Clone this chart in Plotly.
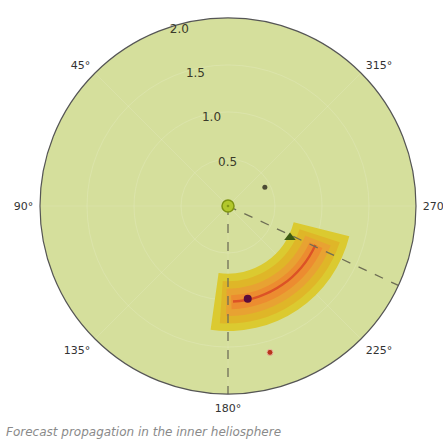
import plotly.graph_objects as go

# Forecast fan (nested annular sectors, outermost first)
band_inner = [0.72, 0.80, 0.88, 0.95, 1.005]
band_outer = [1.33, 1.25, 1.17, 1.10, 1.03]
band_start = [172, 176, 179, 182, 183]
band_end = [256, 252, 249, 246, 246]
band_colors = ["#dbca30", "#dfb628", "#e8a232", "#ec8c30", "#dc5226"]

# Reference directions from the Sun (deg)
guide_angles = [180, 245]
guide_r_max = 2.0

# Bodies: name, r (AU), theta (deg)
body_names = ["Sun", "Mercury", "Venus", "Earth", "Mars"]
body_r = [0.0, 0.44, 0.74, 1.01, 1.62]
body_theta = [0, 297, 243, 192, 196]

# Axis ticks
r_ticks = [0.5, 1.0, 1.5, 2.0]
r_labels = ["0.5", "1.0", "1.5", "2.0"]
theta_ticks = [45, 90, 135, 180, 225, 270, 315]
theta_labels = ["45°", "90°", "135°", "180°", "225°", "270°", "315°"]

caption = "Forecast propagation in the inner heliosphere"

fig = go.Figure()

for lo, hi, a0, a1, col in zip(band_inner, band_outer, band_start, band_end, band_colors):
    fig.add_trace(go.Barpolar(
        r=[hi - lo], base=[lo], theta=[(a0 + a1) / 2], width=[a1 - a0],
        marker=dict(color=col, line=dict(width=0)),
        hoverinfo="skip", showlegend=False,
    ))

for ang in guide_angles:
    fig.add_trace(go.Scatterpolar(
        r=[0, guide_r_max], theta=[ang, ang], mode="lines",
        line=dict(color="#6e6e55", width=1.3, dash="dash"),
        hoverinfo="skip", showlegend=False,
    ))

styles = {
    "Sun": dict(symbol="circle-dot", size=12, color="#b2c82c", line=dict(color="#7e9412", width=1.5)),
    "Mercury": dict(symbol="circle", size=5, color="#4c4c34", line=dict(width=0)),
    "Venus": dict(symbol="triangle-up", size=10, color="#3c5a12", line=dict(width=0)),
    "Earth": dict(symbol="circle", size=8, color="#5a0c3c", line=dict(width=0)),
    "Mars": dict(symbol="circle", size=6, color="#b8341c", line=dict(color="#e8b8a0", width=1)),
}
for name, r, th in zip(body_names, body_r, body_theta):
    fig.add_trace(go.Scatterpolar(
        r=[r], theta=[th], mode="markers", name=name,
        marker=styles[name], showlegend=False,
    ))

fig.update_layout(
    width=443, height=445,
    margin=dict(l=0, r=0, t=0, b=0),
    paper_bgcolor="white",
    font=dict(family="DejaVu Sans", color="#333333"),
    polar=dict(
        domain=dict(x=[40 / 443, 416 / 443], y=[1 - 394 / 445, 1 - 18 / 445]),
        bgcolor="#d5df9c",
        bargap=0,
        radialaxis=dict(
            range=[0, 2.0], tickvals=r_ticks, ticktext=r_labels,
            angle=110, tickangle=110, showline=False, ticks="",
            gridcolor="rgba(255,255,255,0.14)", gridwidth=1,
            tickfont=dict(size=12, color="#3a3a2a"),
        ),
        angularaxis=dict(
            rotation=90, direction="counterclockwise",
            tickvals=theta_ticks, ticktext=theta_labels,
            showline=True, linecolor="#555555", linewidth=1.2,
            gridcolor="rgba(255,255,255,0.12)",
            ticks="outside", ticklen=4, tickcolor="rgba(0,0,0,0)",
            tickfont=dict(size=11, color="#333333"),
        ),
    ),
    annotations=[dict(
        text="<i>" + caption + "</i>", x=0.01, y=0.0, xref="paper", yref="paper",
        xanchor="left", yanchor="bottom", showarrow=False,
        font=dict(size=12, color="#8a8a8a", family="DejaVu Sans"),
        yshift=4,
    )],
)

fig.write_html("out.html")
